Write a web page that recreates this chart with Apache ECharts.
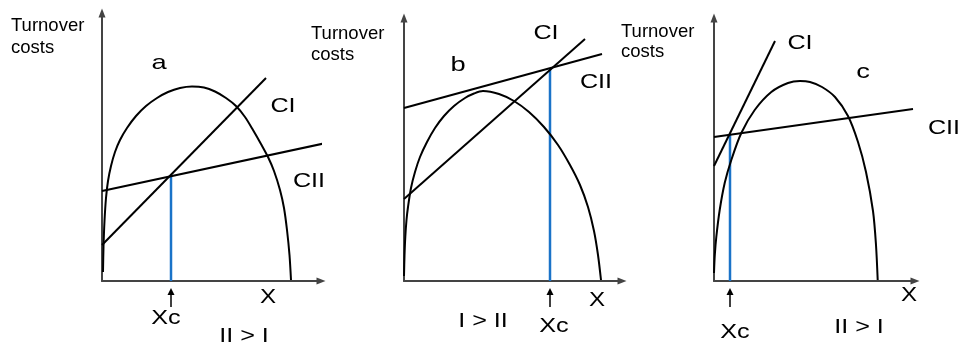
<!DOCTYPE html>
<html>
<head>
<meta charset="utf-8">
<script src="https://cdn.jsdelivr.net/npm/echarts@6/dist/echarts.min.js"></script>
<style>
html, body { margin: 0; background: #fff; }
#chart { width: 962px; height: 344px; }
</style>
</head>
<body>
<div id="chart"></div>
<script>
// one unit = 10px in every panel, origin at the meeting of the axes
const xMax = [21.9, 21.8, 20.1]
const yMax = [26.8, 26.3, 26.3]

const curveA = [[0.1, 0.9], [0.15, 3.4], [0.25, 6.0], [0.4, 8.3], [0.6, 10.0], [0.9, 11.5], [1.3, 12.9], [1.8, 14.1], [2.5, 15.3], [3.4, 16.5], [4.4, 17.5], [5.5, 18.3], [6.6, 18.9], [7.8, 19.3], [9.0, 19.45], [10.2, 19.35], [11.3, 18.95], [12.4, 18.3], [13.4, 17.5], [14.3, 16.4], [15.1, 15.1], [15.9, 13.7], [16.6, 12.4], [17.2, 11.0], [17.8, 9.1], [18.2, 7.3], [18.5, 5.1], [18.75, 2.6], [18.9, 0.1]]
const curveB = [[0, 0.5], [0.05, 2.5], [0.13, 4.4], [0.25, 6.1], [0.4, 7.4], [0.7, 9.3], [1.1, 10.9], [1.6, 12.4], [2.3, 13.9], [3.1, 15.3], [4.0, 16.5], [5.0, 17.5], [6.1, 18.3], [7.0, 18.75], [7.9, 19.0], [9.5, 18.7], [11.0, 18.0], [12.5, 16.9], [14.0, 15.4], [15.4, 13.6], [16.6, 11.6], [17.6, 9.6], [18.4, 7.4], [19.0, 5.0], [19.4, 2.6], [19.7, 0.1]]
const curveC = [[0, 0.8], [0.08, 2.6], [0.23, 4.4], [0.57, 7.1], [1.07, 9.8], [1.73, 12.1], [2.73, 14.8], [4.07, 17.1], [5.73, 18.9], [7.4, 19.8], [8.6, 20.0], [9.6, 19.9], [10.8, 19.4], [12.1, 18.4], [13.4, 16.5], [14.4, 13.9], [15.2, 10.9], [15.9, 7.0], [16.2, 3.6], [16.37, 0.1]]

const ciLines = [
	[[0, 3.6], [16.4, 20.3]],
	[[0, 8.2], [18.1, 24.2]],
	[[0, 11.5], [6.1, 24.0]]
]
const ciiLines = [
	[[0, 9.0], [22.4, 13.8]],
	[[0, 17.3], [19.8, 22.7]],
	[[0, 14.4], [19.9, 17.2]]
]
const xcLines = [
	[[6.9, 0], [6.9, 10.5]],
	[[14.6, 0], [14.6, 21.3]],
	[[1.6, 0], [1.6, 14.6]]
]

const yTitle = ['Turnover', 'costs']
const panelLetters = ['a', 'b', 'c']
const lineNames = ['CI', 'CII']
const xName = 'X'
const xcName = 'Xc'
const ruleLabels = ['II > I', 'I > II', 'II > I']

const grids = [
	{left: 102, top: 13, width: 219, height: 268},
	{left: 404, top: 18, width: 218, height: 263},
	{left: 714, top: 18, width: 201, height: 263}
]

const font = '"Liberation Sans", Arial, sans-serif'
const axisColor = '#444'
const blue = '#1a73c8'

function axis(i, max) {
	return {
		type: 'value',
		gridIndex: i,
		min: 0,
		max: max,
		axisLine: {
			show: true,
			onZero: false,
			symbol: ['none', 'triangle'],
			symbolSize: [7, 9],
			lineStyle: {color: axisColor, width: 2}
		},
		axisTick: {show: false},
		axisLabel: {show: false},
		splitLine: {show: false}
	}
}

function line(i, data, color, width, smooth) {
	return {
		type: 'line',
		xAxisIndex: i,
		yAxisIndex: i,
		data: data,
		symbol: 'none',
		clip: false,
		silent: true,
		smooth: smooth || false,
		lineStyle: {color: color, width: width},
		z: color === blue ? 1 : 2
	}
}

function text(str, x, y, size, sx, align) {
	return {
		type: 'text',
		x: x,
		y: y,
		scaleX: sx || 1,
		style: {
			text: str,
			fontSize: size,
			fontFamily: font,
			fill: '#000',
			align: align || 'center',
			verticalAlign: 'middle'
		}
	}
}

const curves = [curveA, curveB, curveC]
const series = []
curves.forEach((c, i) => {
	series.push(line(i, c, '#000', 2, 0.3))
	series.push(line(i, ciLines[i], '#000', 2))
	series.push(line(i, ciiLines[i], '#000', 2))
	series.push(line(i, xcLines[i], blue, 2.5))
})

const chart = echarts.init(document.getElementById('chart'))
chart.setOption({
	animation: false,
	backgroundColor: '#fff',
	grid: grids,
	xAxis: grids.map((g, i) => axis(i, xMax[i])),
	yAxis: grids.map((g, i) => axis(i, yMax[i])),
	series: series
})

const spots = [
	{title: [11, 26, 48], letter: [159, 63], ci: [283, 106], cii: [309, 181], x: [268, 297], xc: [166, 318], rule: [244, 336]},
	{title: [311, 33.5, 55], letter: [458, 65], ci: [546, 33], cii: [596, 82], x: [597, 300], xc: [554, 326], rule: [483, 321]},
	{title: [621, 32, 52], letter: [863, 72], ci: [800, 43], cii: [944, 128], x: [909, 295], xc: [735, 332], rule: [859, 327]}
]

const graphics = []
spots.forEach((s, i) => {
	graphics.push(text(yTitle[0], s.title[0], s.title[1], 18.5, 1, 'left'))
	graphics.push(text(yTitle[1], s.title[0], s.title[2], 18.5, 1, 'left'))
	graphics.push(text(panelLetters[i], s.letter[0], s.letter[1], 21, 1.3))
	graphics.push(text(lineNames[0], s.ci[0], s.ci[1], 21, 1.2))
	graphics.push(text(lineNames[1], s.cii[0], s.cii[1], 21, 1.2))
	graphics.push(text(xName, s.x[0], s.x[1], 21, 1.15))
	graphics.push(text(xcName, s.xc[0], s.xc[1], 21, 1.2))
	graphics.push(text(ruleLabels[i], s.rule[0], s.rule[1], 21, 1.2))

	const p = chart.convertToPixel({gridIndex: i}, [xcLines[i][0][0], 0])
	graphics.push({
		type: 'group',
		children: [{
			type: 'line',
			shape: {x1: p[0], y1: p[1] + 12, x2: p[0], y2: p[1] + 26},
			style: {stroke: '#000', lineWidth: 1.5}
		}, {
			type: 'polygon',
			shape: {points: [[p[0], p[1] + 7], [p[0] - 3.5, p[1] + 14], [p[0] + 3.5, p[1] + 14]]},
			style: {fill: '#000'}
		}]
	})
})

chart.setOption({graphic: graphics})
</script>
</body>
</html>
